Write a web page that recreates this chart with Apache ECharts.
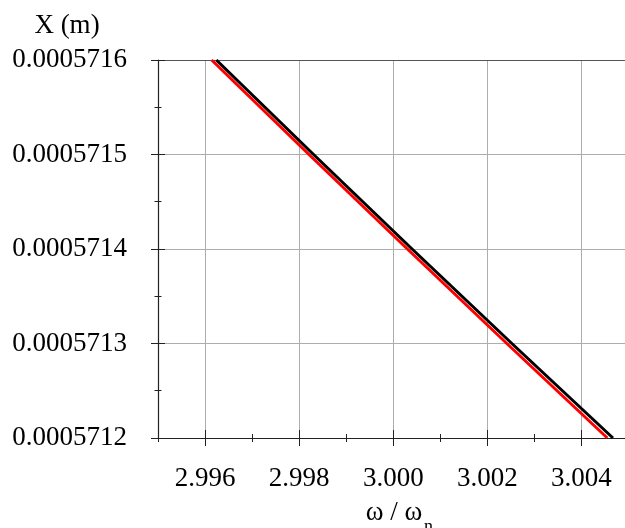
<!DOCTYPE html>
<html>
<head>
<meta charset="utf-8">
<script src="https://cdn.jsdelivr.net/npm/echarts@6/dist/echarts.min.js"></script>
<style>
  html, body { margin: 0; padding: 0; background: #fff; }
  #chart { width: 625px; height: 528px; }
</style>
</head>
<body>
<div id="chart"></div>
<script>
// Frequency ratio range and amplitude range shown
const xRange = [2.995, 3.005];
const yRange = [0.0005712, 0.0005716];

// Tick positions (labelled majors, unlabelled minors)
const xMajorTicks = [2.996, 2.998, 3.000, 3.002, 3.004];
const xMinorTicks = [2.995, 2.997, 2.999, 3.001, 3.003, 3.005];
const yMajorTicks = [0.0005712, 0.0005713, 0.0005714, 0.0005715, 0.0005716];
const yMinorTicks = [0.00057125, 0.00057135, 0.00057145, 0.00057155];

// Amplitude curves: [omega / omega_n, X]
const blackCurve = [
  [2.99624, 0.0005716],
  [3.00040, 0.0005714],
  [3.00467, 0.0005712]
];
const redCurve = [
  [2.99614, 0.0005716],
  [3.00030, 0.0005714],
  [3.00455, 0.0005712]
];

const FONT = 'Liberation Serif, Times New Roman, serif';
const DARK = '#222';

// Helper: an invisible axis that only draws ticks crossing the axis line
function tickXAxis(values, half) {
  return {
    type: 'value', gridIndex: 0, position: 'bottom',
    min: xRange[0], max: xRange[1], offset: -half,
    axisLine: { show: false },
    axisLabel: { show: false, customValues: values },
    splitLine: { show: false },
    axisTick: { show: true, inside: false, length: half * 2, customValues: values,
                lineStyle: { color: DARK, width: 1 } }
  };
}
function tickYAxis(values, half) {
  return {
    type: 'value', gridIndex: 0, position: 'left',
    min: yRange[0], max: yRange[1], offset: -half,
    axisLine: { show: false },
    axisLabel: { show: false, customValues: values },
    splitLine: { show: false },
    axisTick: { show: true, inside: false, length: half * 2, customValues: values,
                lineStyle: { color: DARK, width: 1 } }
  };
}

const chart = echarts.init(document.getElementById('chart'), null, { renderer: 'canvas' });

chart.setOption({
  backgroundColor: '#fff',
  animation: false,
  grid: { left: 158, right: -3.5, top: 60, bottom: 90, containLabel: false, outerBoundsMode: 'none' },
  xAxis: [
    {
      type: 'value', gridIndex: 0, position: 'bottom',
      min: xRange[0], max: xRange[1],
      axisLine: { show: true, onZero: false, lineStyle: { color: DARK, width: 1.2 } },
      axisTick: { show: false, customValues: xMajorTicks },
      axisLabel: {
        customValues: xMajorTicks,
        formatter: v => v.toFixed(3),
        fontFamily: FONT, fontSize: 27, color: '#000', margin: 27
      },
      splitLine: { show: true, lineStyle: { color: '#adadad', width: 1 } }
    },
    tickXAxis(xMajorTicks, 8),
    tickXAxis(xMinorTicks, 4),
    {
      // top border of the plot
      type: 'value', gridIndex: 0, position: 'top',
      min: xRange[0], max: xRange[1],
      axisLine: { show: true, lineStyle: { color: '#555', width: 1.2 } },
      axisTick: { show: false }, axisLabel: { show: false }, splitLine: { show: false }
    }
  ],
  yAxis: [
    {
      type: 'value', gridIndex: 0, position: 'left',
      min: yRange[0], max: yRange[1],
      axisLine: { show: true, onZero: false, lineStyle: { color: DARK, width: 1.2 } },
      axisTick: { show: false, customValues: yMajorTicks },
      axisLabel: {
        customValues: yMajorTicks,
        formatter: v => v.toFixed(7),
        fontFamily: FONT, fontSize: 27, color: '#000', margin: 31
      },
      splitLine: { show: true, lineStyle: { color: '#adadad', width: 1 } }
    },
    tickYAxis(yMajorTicks, 7),
    tickYAxis(yMinorTicks, 3.5)
  ],
  series: [
    {
      name: 'red', type: 'line', xAxisIndex: 0, yAxisIndex: 0,
      data: redCurve, showSymbol: false, smooth: true,
      lineStyle: { color: '#ff0000', width: 3 }
    },
    {
      name: 'black', type: 'line', xAxisIndex: 0, yAxisIndex: 0,
      data: blackCurve, showSymbol: false, smooth: true,
      lineStyle: { color: '#000000', width: 3 }
    }
  ],
  graphic: [
    {
      type: 'text', x: 67, y: 26,
      style: { text: 'X (m)', font: '27px ' + FONT, fill: '#000', align: 'center', verticalAlign: 'middle' }
    },
    {
      type: 'text', x: 394, y: 513,
      style: { text: 'ω / ω', font: '27px ' + FONT, fill: '#000', align: 'center', verticalAlign: 'middle' }
    },
    {
      type: 'text', x: 424, y: 527,
      style: { text: 'n', font: '18px ' + FONT, fill: '#000', align: 'left', verticalAlign: 'middle' }
    }
  ]
});
</script>
</body>
</html>
